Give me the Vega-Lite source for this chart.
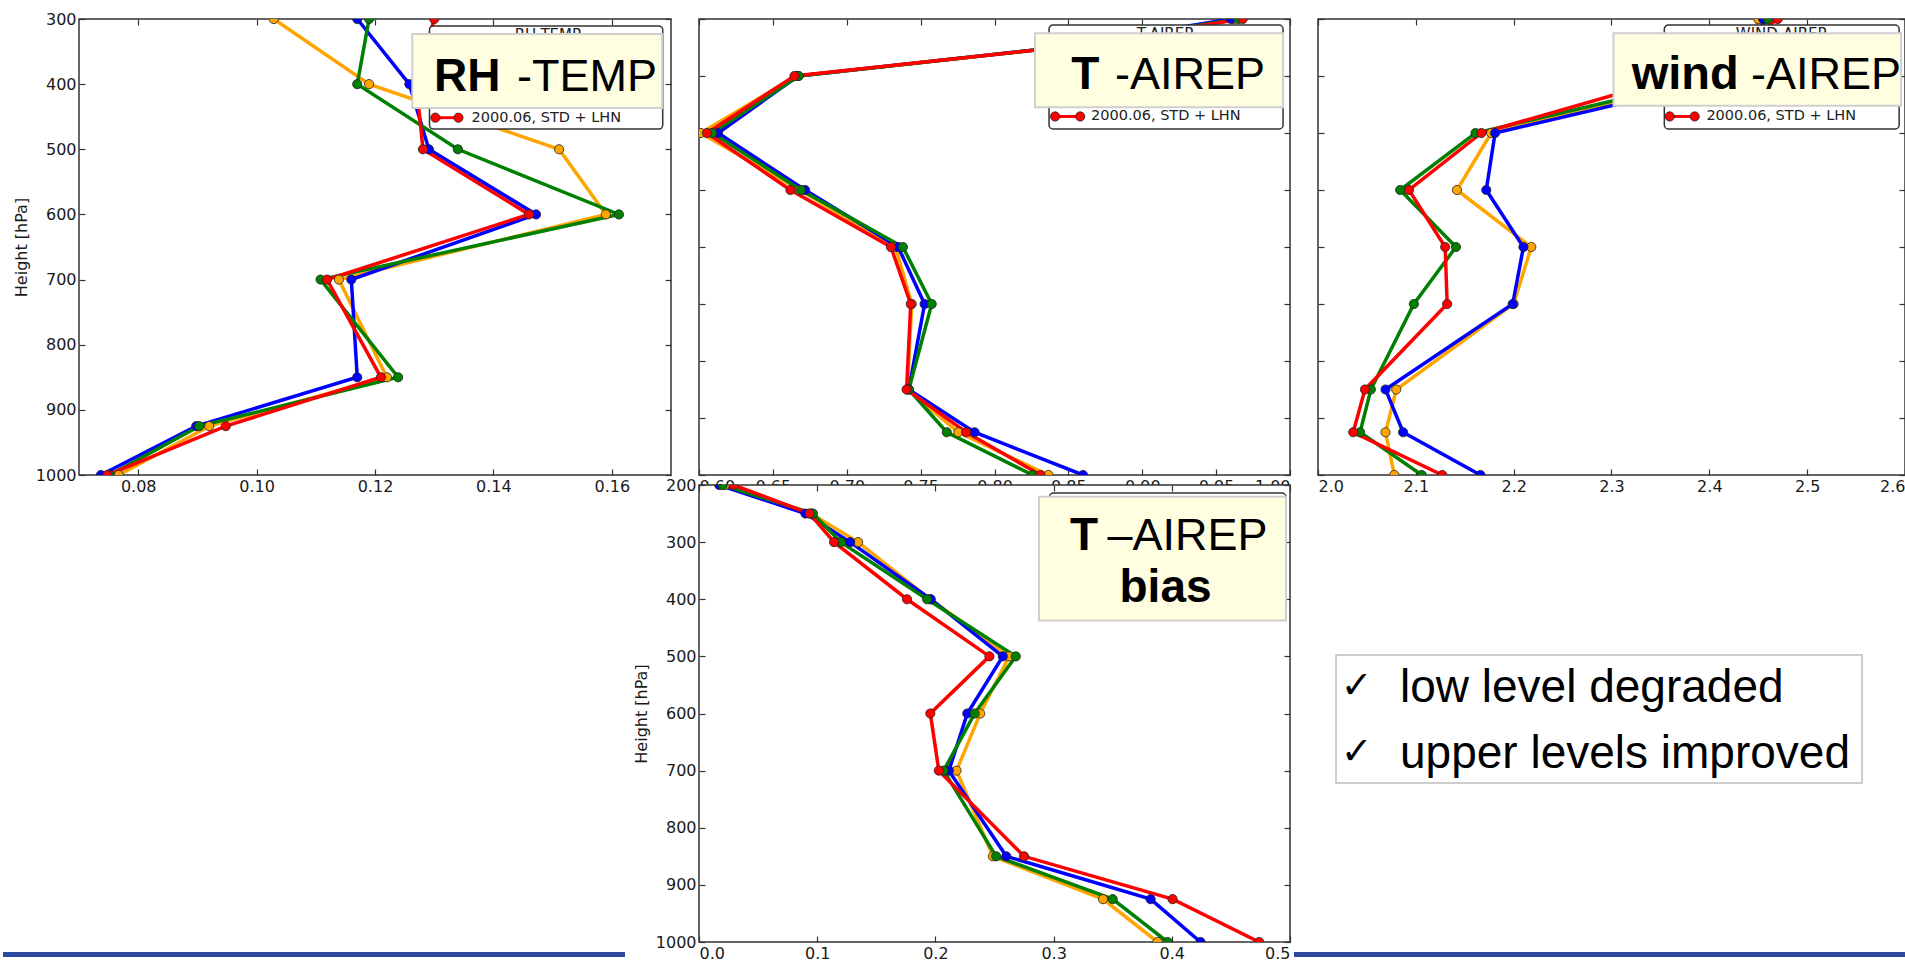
{
"$schema": "https://vega.github.io/schema/vega-lite/v6.json",
"background": "white",
"padding": {"left": 0, "top": 10, "right": 0, "bottom": 0},
"config": {
  "view": {"stroke": "#333", "strokeWidth": 1.5, "fill": "white"},
  "axis": {"grid": false, "domain": false, "tickColor": "#333", "tickSize": -6, "tickWidth": 1.2, "labelFont": "DejaVu Sans", "labelFontSize": 16, "labelColor": "#1a1a1a", "labelPadding": 9, "titleFont": "DejaVu Sans", "titleFontSize": 16, "titleFontWeight": "normal", "titleColor": "#1a1a1a"},
  "text": {"font": "Liberation Sans"}
},
"datasets": {
  "rh": [
    {"exp":"E1","lev":300,"val":0.1029},{"exp":"E1","lev":400,"val":0.1190},{"exp":"E1","lev":500,"val":0.1511},{"exp":"E1","lev":600,"val":0.1590},{"exp":"E1","lev":700,"val":0.1139},{"exp":"E1","lev":850,"val":0.1220},{"exp":"E1","lev":925,"val":0.0920},{"exp":"E1","lev":1000,"val":0.0767},
    {"exp":"E2","lev":300,"val":0.1170},{"exp":"E2","lev":400,"val":0.1258},{"exp":"E2","lev":500,"val":0.1291},{"exp":"E2","lev":600,"val":0.1472},{"exp":"E2","lev":700,"val":0.1160},{"exp":"E2","lev":850,"val":0.1170},{"exp":"E2","lev":925,"val":0.0898},{"exp":"E2","lev":1000,"val":0.0737},
    {"exp":"E3","lev":300,"val":0.1190},{"exp":"E3","lev":400,"val":0.1170},{"exp":"E3","lev":500,"val":0.1340},{"exp":"E3","lev":600,"val":0.1612},{"exp":"E3","lev":700,"val":0.1108},{"exp":"E3","lev":850,"val":0.1239},{"exp":"E3","lev":925,"val":0.0903},{"exp":"E3","lev":1000,"val":0.0752},
    {"exp":"2000.06, STD + LHN","lev":300,"val":0.1300},{"exp":"2000.06, STD + LHN","lev":400,"val":0.1270},{"exp":"2000.06, STD + LHN","lev":500,"val":0.1281},{"exp":"2000.06, STD + LHN","lev":600,"val":0.1460},{"exp":"2000.06, STD + LHN","lev":700,"val":0.1119},{"exp":"2000.06, STD + LHN","lev":850,"val":0.1210},{"exp":"2000.06, STD + LHN","lev":925,"val":0.0948},{"exp":"2000.06, STD + LHN","lev":1000,"val":0.0748}
  ],
  "t": [
    {"exp":"E1","lev":200,"val":0.962},{"exp":"E1","lev":250,"val":0.843},{"exp":"E1","lev":300,"val":0.666},{"exp":"E1","lev":400,"val":0.6013},{"exp":"E1","lev":500,"val":0.668},{"exp":"E1","lev":600,"val":0.733},{"exp":"E1","lev":700,"val":0.744},{"exp":"E1","lev":850,"val":0.741},{"exp":"E1","lev":925,"val":0.7755},{"exp":"E1","lev":1000,"val":0.8365},
    {"exp":"E2","lev":200,"val":0.960},{"exp":"E2","lev":250,"val":0.842},{"exp":"E2","lev":300,"val":0.667},{"exp":"E2","lev":400,"val":0.6129},{"exp":"E2","lev":500,"val":0.6718},{"exp":"E2","lev":600,"val":0.7348},{"exp":"E2","lev":700,"val":0.7527},{"exp":"E2","lev":850,"val":0.742},{"exp":"E2","lev":925,"val":0.7865},{"exp":"E2","lev":1000,"val":0.8599},
    {"exp":"E3","lev":200,"val":0.965},{"exp":"E3","lev":250,"val":0.843},{"exp":"E3","lev":300,"val":0.6675},{"exp":"E3","lev":400,"val":0.609},{"exp":"E3","lev":500,"val":0.669},{"exp":"E3","lev":600,"val":0.738},{"exp":"E3","lev":700,"val":0.7575},{"exp":"E3","lev":850,"val":0.742},{"exp":"E3","lev":925,"val":0.7677},{"exp":"E3","lev":1000,"val":0.8258},
    {"exp":"2000.06, STD + LHN","lev":200,"val":0.968},{"exp":"2000.06, STD + LHN","lev":250,"val":0.844},{"exp":"2000.06, STD + LHN","lev":300,"val":0.6646},{"exp":"2000.06, STD + LHN","lev":400,"val":0.6054},{"exp":"2000.06, STD + LHN","lev":500,"val":0.6619},{"exp":"2000.06, STD + LHN","lev":600,"val":0.7299},{"exp":"2000.06, STD + LHN","lev":700,"val":0.7433},{"exp":"2000.06, STD + LHN","lev":850,"val":0.7405},{"exp":"2000.06, STD + LHN","lev":925,"val":0.7808},{"exp":"2000.06, STD + LHN","lev":1000,"val":0.8312}
  ],
  "wind": [
    {"exp":"E1","lev":200,"val":2.45},{"exp":"E1","lev":250,"val":2.44},{"exp":"E1","lev":300,"val":2.41},{"exp":"E1","lev":400,"val":2.177},{"exp":"E1","lev":500,"val":2.142},{"exp":"E1","lev":600,"val":2.218},{"exp":"E1","lev":700,"val":2.200},{"exp":"E1","lev":850,"val":2.080},{"exp":"E1","lev":925,"val":2.069},{"exp":"E1","lev":1000,"val":2.078},
    {"exp":"E2","lev":200,"val":2.455},{"exp":"E2","lev":250,"val":2.45},{"exp":"E2","lev":300,"val":2.43},{"exp":"E2","lev":400,"val":2.181},{"exp":"E2","lev":500,"val":2.172},{"exp":"E2","lev":600,"val":2.210},{"exp":"E2","lev":700,"val":2.199},{"exp":"E2","lev":850,"val":2.069},{"exp":"E2","lev":925,"val":2.087},{"exp":"E2","lev":1000,"val":2.166},
    {"exp":"E3","lev":200,"val":2.46},{"exp":"E3","lev":250,"val":2.44},{"exp":"E3","lev":300,"val":2.41},{"exp":"E3","lev":400,"val":2.161},{"exp":"E3","lev":500,"val":2.084},{"exp":"E3","lev":600,"val":2.141},{"exp":"E3","lev":700,"val":2.098},{"exp":"E3","lev":850,"val":2.054},{"exp":"E3","lev":925,"val":2.043},{"exp":"E3","lev":1000,"val":2.106},
    {"exp":"2000.06, STD + LHN","lev":200,"val":2.47},{"exp":"2000.06, STD + LHN","lev":250,"val":2.43},{"exp":"2000.06, STD + LHN","lev":300,"val":2.37},{"exp":"2000.06, STD + LHN","lev":400,"val":2.167},{"exp":"2000.06, STD + LHN","lev":500,"val":2.093},{"exp":"2000.06, STD + LHN","lev":600,"val":2.130},{"exp":"2000.06, STD + LHN","lev":700,"val":2.132},{"exp":"2000.06, STD + LHN","lev":850,"val":2.048},{"exp":"2000.06, STD + LHN","lev":925,"val":2.036},{"exp":"2000.06, STD + LHN","lev":1000,"val":2.127}
  ],
  "tbias": [
    {"exp":"E1","lev":200,"val":0.022},{"exp":"E1","lev":250,"val":0.0946},{"exp":"E1","lev":300,"val":0.1346},{"exp":"E1","lev":400,"val":0.1957},{"exp":"E1","lev":500,"val":0.2625},{"exp":"E1","lev":600,"val":0.2379},{"exp":"E1","lev":700,"val":0.2179},{"exp":"E1","lev":850,"val":0.2486},{"exp":"E1","lev":925,"val":0.3418},{"exp":"E1","lev":1000,"val":0.3879},
    {"exp":"E2","lev":200,"val":0.0171},{"exp":"E2","lev":250,"val":0.090},{"exp":"E2","lev":300,"val":0.1279},{"exp":"E2","lev":400,"val":0.196},{"exp":"E2","lev":500,"val":0.257},{"exp":"E2","lev":600,"val":0.227},{"exp":"E2","lev":700,"val":0.2114},{"exp":"E2","lev":850,"val":0.260},{"exp":"E2","lev":925,"val":0.3821},{"exp":"E2","lev":1000,"val":0.4243},
    {"exp":"E3","lev":200,"val":0.020},{"exp":"E3","lev":250,"val":0.0964},{"exp":"E3","lev":300,"val":0.120},{"exp":"E3","lev":400,"val":0.193},{"exp":"E3","lev":500,"val":0.268},{"exp":"E3","lev":600,"val":0.2332},{"exp":"E3","lev":700,"val":0.207},{"exp":"E3","lev":850,"val":0.2514},{"exp":"E3","lev":925,"val":0.350},{"exp":"E3","lev":1000,"val":0.3964},
    {"exp":"2000.06, STD + LHN","lev":200,"val":0.0293},{"exp":"2000.06, STD + LHN","lev":250,"val":0.0936},{"exp":"2000.06, STD + LHN","lev":300,"val":0.1143},{"exp":"2000.06, STD + LHN","lev":400,"val":0.176},{"exp":"2000.06, STD + LHN","lev":500,"val":0.2457},{"exp":"2000.06, STD + LHN","lev":600,"val":0.1957},{"exp":"2000.06, STD + LHN","lev":700,"val":0.2029},{"exp":"2000.06, STD + LHN","lev":850,"val":0.275},{"exp":"2000.06, STD + LHN","lev":925,"val":0.4007},{"exp":"2000.06, STD + LHN","lev":1000,"val":0.4739}
  ]
},
"columns": 3,
"bounds": "flush",
"align": "each",
"spacing": {"row": 10, "column": 28},
"concat": [
  {
    "width": 592, "height": 456,
    "resolve": {"axis": {"x": "independent", "y": "independent"}},
    "layer": [
      {"data": {"name": "rh"},
       "mark": {"type": "line", "strokeWidth": 3.5, "clip": true},
       "encoding": {
         "x": {"field": "val", "type": "quantitative", "scale": {"domain": [0.07, 0.17], "nice": false, "zero": false}, "axis": {"values": [0.08, 0.10, 0.12, 0.14, 0.16], "format": ".2f", "title": null}},
         "y": {"field": "lev", "type": "quantitative", "scale": {"domain": [300, 1000], "reverse": true, "nice": false, "zero": false}, "axis": {"values": [300, 400, 500, 600, 700, 800, 900, 1000], "format": "d", "title": "Height [hPa]", "titlePadding": 6, "titleFontSize": 16, "titleFont": "DejaVu Sans", "titleFontWeight": "normal"}},
         "color": {"field": "exp", "type": "nominal", "scale": {"domain": ["E1", "E2", "E3", "2000.06, STD + LHN"], "range": ["#FFA500", "#0000FF", "#008000", "#FF0000"]}, "legend": null},
         "order": {"field": "lev", "type": "quantitative"}
       }},
      {"data": {"name": "rh"},
       "mark": {"type": "circle", "size": 85, "opacity": 1, "stroke": "#222", "strokeWidth": 0.8, "clip": true},
       "encoding": {
         "x": {"field": "val", "type": "quantitative", "axis": {"orient": "top", "labels": false, "title": null, "values": [0.08, 0.10, 0.12, 0.14, 0.16]}},
         "y": {"field": "lev", "type": "quantitative", "axis": {"orient": "right", "labels": false, "title": null, "values": [300, 400, 500, 600, 700, 800, 900, 1000]}},
         "color": {"field": "exp", "type": "nominal", "legend": null}
       }},
      {"data": {"values": [{}]},
       "mark": {"type": "rect", "fill": "white", "stroke": "#333", "strokeWidth": 1.5, "cornerRadius": 4},
       "encoding": {"x": {"datum": 0.1292, "type": "quantitative", "axis": null}, "x2": {"datum": 0.1686}, "y": {"datum": 310.7, "type": "quantitative", "axis": null}, "y2": {"datum": 468.9}}},
      {"data": {"values": [{}]},
       "mark": {"type": "rule", "stroke": "#FF0000", "strokeWidth": 3},
       "encoding": {"x": {"datum": 0.1302, "type": "quantitative", "axis": null}, "x2": {"datum": 0.1341}, "y": {"datum": 451.5, "type": "quantitative", "axis": null}}},
      {"data": {"values": [{}]},
       "mark": {"type": "circle", "size": 85, "fill": "#FF0000", "opacity": 1, "stroke": "#222", "strokeWidth": 0.8},
       "encoding": {"x": {"datum": 0.1302, "type": "quantitative", "axis": null}, "y": {"datum": 451.5, "type": "quantitative", "axis": null}}},
      {"data": {"values": [{}]},
       "mark": {"type": "circle", "size": 85, "fill": "#FF0000", "opacity": 1, "stroke": "#222", "strokeWidth": 0.8},
       "encoding": {"x": {"datum": 0.1341, "type": "quantitative", "axis": null}, "y": {"datum": 451.5, "type": "quantitative", "axis": null}}},
      {"data": {"values": [{}]},
       "mark": {"type": "text", "text": "2000.06, STD + LHN", "font": "DejaVu Sans", "fontSize": 14.5, "color": "#222", "align": "left", "baseline": "middle"},
       "encoding": {"x": {"datum": 0.1363, "type": "quantitative", "axis": null}, "y": {"datum": 451.5, "type": "quantitative", "axis": null}}},
      {"data": {"values": [{}]},
       "mark": {"type": "text", "text": "RH-TEMP", "font": "DejaVu Sans", "fontSize": 15, "color": "#222", "align": "center", "baseline": "middle"},
       "encoding": {"x": {"datum": 0.1492, "type": "quantitative", "axis": null}, "y": {"datum": 325, "type": "quantitative", "axis": null}}},
      {"data": {"values": [{}]},
       "mark": {"type": "rect", "fill": "#FFFEE0", "stroke": "#CFCFCF", "strokeWidth": 2},
       "encoding": {"x": {"datum": 0.1263, "type": "quantitative", "axis": null}, "x2": {"datum": 0.1685}, "y": {"datum": 323, "type": "quantitative", "axis": null}, "y2": {"datum": 436.6}}},
      {"data": {"values": [{}]},
       "mark": {"type": "text", "text": "RH", "fontSize": 46, "fontWeight": "bold", "color": "black", "align": "right", "baseline": "alphabetic"},
       "encoding": {"x": {"datum": 0.1412, "type": "quantitative", "axis": null}, "y": {"datum": 410, "type": "quantitative", "axis": null}}},
      {"data": {"values": [{}]},
       "mark": {"type": "text", "text": "-TEMP", "fontSize": 45, "color": "black", "align": "left", "baseline": "alphabetic"},
       "encoding": {"x": {"datum": 0.1440, "type": "quantitative", "axis": null}, "y": {"datum": 410, "type": "quantitative", "axis": null}}}
    ]
  },
  {
    "width": 591, "height": 456,
    "resolve": {"axis": {"x": "independent", "y": "independent"}},
    "layer": [
      {"data": {"name": "t"},
       "mark": {"type": "line", "strokeWidth": 3.5, "clip": true},
       "encoding": {
         "x": {"field": "val", "type": "quantitative", "scale": {"domain": [0.6, 1.0], "nice": false, "zero": false}, "axis": {"values": [0.6, 0.65, 0.7, 0.75, 0.8, 0.85, 0.9, 0.95, 1.0], "format": ".2f", "title": null}},
         "y": {"field": "lev", "type": "quantitative", "scale": {"domain": [200, 1000], "reverse": true, "nice": false, "zero": false}, "axis": {"values": [200, 300, 400, 500, 600, 700, 800, 900, 1000], "labels": false, "title": null}},
         "color": {"field": "exp", "type": "nominal", "scale": {"domain": ["E1", "E2", "E3", "2000.06, STD + LHN"], "range": ["#FFA500", "#0000FF", "#008000", "#FF0000"]}, "legend": null},
         "order": {"field": "lev", "type": "quantitative"}
       }},
      {"data": {"name": "t"},
       "mark": {"type": "circle", "size": 85, "opacity": 1, "stroke": "#222", "strokeWidth": 0.8, "clip": true},
       "encoding": {
         "x": {"field": "val", "type": "quantitative", "axis": {"orient": "top", "labels": false, "title": null, "values": [0.6, 0.65, 0.7, 0.75, 0.8, 0.85, 0.9, 0.95, 1.0]}},
         "y": {"field": "lev", "type": "quantitative", "axis": {"orient": "right", "labels": false, "title": null, "values": [200, 300, 400, 500, 600, 700, 800, 900, 1000]}},
         "color": {"field": "exp", "type": "nominal", "legend": null}
       }},
      {"data": {"values": [{}]},
       "mark": {"type": "rect", "fill": "white", "stroke": "#333", "strokeWidth": 1.5, "cornerRadius": 4},
       "encoding": {"x": {"datum": 0.8369, "type": "quantitative", "axis": null}, "x2": {"datum": 0.9953}, "y": {"datum": 210.5, "type": "quantitative", "axis": null}, "y2": {"datum": 393}}},
      {"data": {"values": [{}]},
       "mark": {"type": "rule", "stroke": "#FF0000", "strokeWidth": 3},
       "encoding": {"x": {"datum": 0.841, "type": "quantitative", "axis": null}, "x2": {"datum": 0.858}, "y": {"datum": 371, "type": "quantitative", "axis": null}}},
      {"data": {"values": [{}]},
       "mark": {"type": "circle", "size": 85, "fill": "#FF0000", "opacity": 1, "stroke": "#222", "strokeWidth": 0.8},
       "encoding": {"x": {"datum": 0.841, "type": "quantitative", "axis": null}, "y": {"datum": 371, "type": "quantitative", "axis": null}}},
      {"data": {"values": [{}]},
       "mark": {"type": "circle", "size": 85, "fill": "#FF0000", "opacity": 1, "stroke": "#222", "strokeWidth": 0.8},
       "encoding": {"x": {"datum": 0.858, "type": "quantitative", "axis": null}, "y": {"datum": 371, "type": "quantitative", "axis": null}}},
      {"data": {"values": [{}]},
       "mark": {"type": "text", "text": "2000.06, STD + LHN", "font": "DejaVu Sans", "fontSize": 14.5, "color": "#222", "align": "left", "baseline": "middle"},
       "encoding": {"x": {"datum": 0.8653, "type": "quantitative", "axis": null}, "y": {"datum": 371, "type": "quantitative", "axis": null}}},
      {"data": {"values": [{}]},
       "mark": {"type": "text", "text": "T-AIREP", "font": "DejaVu Sans", "fontSize": 15, "color": "#222", "align": "center", "baseline": "middle"},
       "encoding": {"x": {"datum": 0.9154, "type": "quantitative", "axis": null}, "y": {"datum": 226, "type": "quantitative", "axis": null}}},
      {"data": {"values": [{}]},
       "mark": {"type": "rect", "fill": "#FFFEE0", "stroke": "#CFCFCF", "strokeWidth": 2},
       "encoding": {"x": {"datum": 0.8274, "type": "quantitative", "axis": null}, "x2": {"datum": 0.9953}, "y": {"datum": 225, "type": "quantitative", "axis": null}, "y2": {"datum": 355}}},
      {"data": {"values": [{}]},
       "mark": {"type": "text", "text": "T", "fontSize": 46, "fontWeight": "bold", "color": "black", "align": "right", "baseline": "alphabetic"},
       "encoding": {"x": {"datum": 0.871, "type": "quantitative", "axis": null}, "y": {"datum": 323, "type": "quantitative", "axis": null}}},
      {"data": {"values": [{}]},
       "mark": {"type": "text", "text": "-AIREP", "fontSize": 45, "color": "black", "align": "left", "baseline": "alphabetic"},
       "encoding": {"x": {"datum": 0.8815, "type": "quantitative", "axis": null}, "y": {"datum": 323, "type": "quantitative", "axis": null}}}
    ]
  },
  {
    "width": 587, "height": 456,
    "resolve": {"axis": {"x": "independent", "y": "independent"}},
    "layer": [
      {"data": {"name": "wind"},
       "mark": {"type": "line", "strokeWidth": 3.5, "clip": true},
       "encoding": {
         "x": {"field": "val", "type": "quantitative", "scale": {"domain": [2.0, 2.6], "nice": false, "zero": false}, "axis": {"values": [2.0, 2.1, 2.2, 2.3, 2.4, 2.5, 2.6], "format": ".1f", "title": null}},
         "y": {"field": "lev", "type": "quantitative", "scale": {"domain": [200, 1000], "reverse": true, "nice": false, "zero": false}, "axis": {"values": [200, 300, 400, 500, 600, 700, 800, 900, 1000], "labels": false, "title": null}},
         "color": {"field": "exp", "type": "nominal", "scale": {"domain": ["E1", "E2", "E3", "2000.06, STD + LHN"], "range": ["#FFA500", "#0000FF", "#008000", "#FF0000"]}, "legend": null},
         "order": {"field": "lev", "type": "quantitative"}
       }},
      {"data": {"name": "wind"},
       "mark": {"type": "circle", "size": 85, "opacity": 1, "stroke": "#222", "strokeWidth": 0.8, "clip": true},
       "encoding": {
         "x": {"field": "val", "type": "quantitative", "axis": {"orient": "top", "labels": false, "title": null, "values": [2.0, 2.1, 2.2, 2.3, 2.4, 2.5, 2.6]}},
         "y": {"field": "lev", "type": "quantitative", "axis": {"orient": "right", "labels": false, "title": null, "values": [200, 300, 400, 500, 600, 700, 800, 900, 1000]}},
         "color": {"field": "exp", "type": "nominal", "legend": null}
       }},
      {"data": {"values": [{}]},
       "mark": {"type": "rect", "fill": "white", "stroke": "#333", "strokeWidth": 1.5, "cornerRadius": 4},
       "encoding": {"x": {"datum": 2.354, "type": "quantitative", "axis": null}, "x2": {"datum": 2.594}, "y": {"datum": 210.5, "type": "quantitative", "axis": null}, "y2": {"datum": 393}}},
      {"data": {"values": [{}]},
       "mark": {"type": "rule", "stroke": "#FF0000", "strokeWidth": 3},
       "encoding": {"x": {"datum": 2.3595, "type": "quantitative", "axis": null}, "x2": {"datum": 2.385}, "y": {"datum": 371, "type": "quantitative", "axis": null}}},
      {"data": {"values": [{}]},
       "mark": {"type": "circle", "size": 85, "fill": "#FF0000", "opacity": 1, "stroke": "#222", "strokeWidth": 0.8},
       "encoding": {"x": {"datum": 2.3595, "type": "quantitative", "axis": null}, "y": {"datum": 371, "type": "quantitative", "axis": null}}},
      {"data": {"values": [{}]},
       "mark": {"type": "circle", "size": 85, "fill": "#FF0000", "opacity": 1, "stroke": "#222", "strokeWidth": 0.8},
       "encoding": {"x": {"datum": 2.385, "type": "quantitative", "axis": null}, "y": {"datum": 371, "type": "quantitative", "axis": null}}},
      {"data": {"values": [{}]},
       "mark": {"type": "text", "text": "2000.06, STD + LHN", "font": "DejaVu Sans", "fontSize": 14.5, "color": "#222", "align": "left", "baseline": "middle"},
       "encoding": {"x": {"datum": 2.397, "type": "quantitative", "axis": null}, "y": {"datum": 371, "type": "quantitative", "axis": null}}},
      {"data": {"values": [{}]},
       "mark": {"type": "text", "text": "WIND-AIREP", "font": "DejaVu Sans", "fontSize": 15, "color": "#222", "align": "center", "baseline": "middle"},
       "encoding": {"x": {"datum": 2.4735, "type": "quantitative", "axis": null}, "y": {"datum": 226, "type": "quantitative", "axis": null}}},
      {"data": {"values": [{}]},
       "mark": {"type": "rect", "fill": "#FFFEE0", "stroke": "#CFCFCF", "strokeWidth": 2},
       "encoding": {"x": {"datum": 2.302, "type": "quantitative", "axis": null}, "x2": {"datum": 2.596}, "y": {"datum": 225, "type": "quantitative", "axis": null}, "y2": {"datum": 352}}},
      {"data": {"values": [{}]},
       "mark": {"type": "text", "text": "wind", "fontSize": 47, "fontWeight": "bold", "color": "black", "align": "right", "baseline": "alphabetic"},
       "encoding": {"x": {"datum": 2.430, "type": "quantitative", "axis": null}, "y": {"datum": 323, "type": "quantitative", "axis": null}}},
      {"data": {"values": [{}]},
       "mark": {"type": "text", "text": "-AIREP", "fontSize": 45, "color": "black", "align": "left", "baseline": "alphabetic"},
       "encoding": {"x": {"datum": 2.4425, "type": "quantitative", "axis": null}, "y": {"datum": 323, "type": "quantitative", "axis": null}}}
    ]
  },
  {
    "width": 592, "height": 457,
    "view": {"stroke": null, "fill": null},
    "data": {"values": [{}]},
    "mark": {"type": "rule", "stroke": "#2E4A9E", "strokeWidth": 5, "clip": false},
    "encoding": {
      "x": {"datum": -0.1284, "type": "quantitative", "scale": {"domain": [0, 1], "nice": false, "zero": false}, "axis": null},
      "x2": {"datum": 0.9223},
      "y": {"datum": 1.0274, "type": "quantitative", "scale": {"domain": [0, 1], "reverse": true, "nice": false, "zero": false}, "axis": null}
    }
  },
  {
    "width": 591, "height": 457,
    "resolve": {"axis": {"x": "independent", "y": "independent"}},
    "layer": [
      {"data": {"name": "tbias"},
       "mark": {"type": "line", "strokeWidth": 3.5, "clip": true},
       "encoding": {
         "x": {"field": "val", "type": "quantitative", "scale": {"domain": [0, 0.5], "nice": false, "zero": false}, "axis": {"values": [0, 0.1, 0.2, 0.3, 0.4, 0.5], "format": ".1f", "title": null}},
         "y": {"field": "lev", "type": "quantitative", "scale": {"domain": [200, 1000], "reverse": true, "nice": false, "zero": false}, "axis": {"values": [200, 300, 400, 500, 600, 700, 800, 900, 1000], "format": "d", "title": "Height [hPa]", "titlePadding": 6, "titleFontSize": 16, "titleFont": "DejaVu Sans", "titleFontWeight": "normal"}},
         "color": {"field": "exp", "type": "nominal", "scale": {"domain": ["E1", "E2", "E3", "2000.06, STD + LHN"], "range": ["#FFA500", "#0000FF", "#008000", "#FF0000"]}, "legend": null},
         "order": {"field": "lev", "type": "quantitative"}
       }},
      {"data": {"name": "tbias"},
       "mark": {"type": "circle", "size": 85, "opacity": 1, "stroke": "#222", "strokeWidth": 0.8, "clip": true},
       "encoding": {
         "x": {"field": "val", "type": "quantitative", "axis": {"orient": "top", "labels": false, "title": null, "values": [0, 0.1, 0.2, 0.3, 0.4, 0.5]}},
         "y": {"field": "lev", "type": "quantitative", "axis": {"orient": "right", "labels": false, "title": null, "values": [200, 300, 400, 500, 600, 700, 800, 900, 1000]}},
         "color": {"field": "exp", "type": "nominal", "legend": null}
       }},
      {"data": {"values": [{}]},
       "mark": {"type": "rect", "fill": "white", "stroke": "#333", "strokeWidth": 1.5, "cornerRadius": 4},
       "encoding": {"x": {"datum": 0.2965, "type": "quantitative", "axis": null}, "x2": {"datum": 0.4966}, "y": {"datum": 214, "type": "quantitative", "axis": null}, "y2": {"datum": 400}}},
      {"data": {"values": [{}]},
       "mark": {"type": "rect", "fill": "#FFFEE0", "stroke": "#CFCFCF", "strokeWidth": 2},
       "encoding": {"x": {"datum": 0.2876, "type": "quantitative", "axis": null}, "x2": {"datum": 0.4966}, "y": {"datum": 220.4, "type": "quantitative", "axis": null}, "y2": {"datum": 437}}},
      {"data": {"values": [{}]},
       "mark": {"type": "text", "text": "T", "fontSize": 46, "fontWeight": "bold", "color": "black", "align": "right", "baseline": "alphabetic"},
       "encoding": {"x": {"datum": 0.3376, "type": "quantitative", "axis": null}, "y": {"datum": 314, "type": "quantitative", "axis": null}}},
      {"data": {"values": [{}]},
       "mark": {"type": "text", "text": "–AIREP", "fontSize": 45, "color": "black", "align": "left", "baseline": "alphabetic"},
       "encoding": {"x": {"datum": 0.3455, "type": "quantitative", "axis": null}, "y": {"datum": 314, "type": "quantitative", "axis": null}}},
      {"data": {"values": [{}]},
       "mark": {"type": "text", "text": "bias", "fontSize": 46, "fontWeight": "bold", "color": "black", "align": "center", "baseline": "alphabetic"},
       "encoding": {"x": {"datum": 0.3947, "type": "quantitative", "axis": null}, "y": {"datum": 404, "type": "quantitative", "axis": null}}}
    ]
  },
  {
    "width": 587, "height": 457,
    "view": {"stroke": null, "fill": null},
    "data": {"values": [{}]},
    "encoding": {
      "x": {"datum": 0, "type": "quantitative", "scale": {"domain": [0, 1], "nice": false, "zero": false}, "axis": null},
      "y": {"datum": 0, "type": "quantitative", "scale": {"domain": [0, 1], "reverse": true, "nice": false, "zero": false}, "axis": null}
    },
    "layer": [
      {"mark": {"type": "rule", "stroke": "#2E4A9E", "strokeWidth": 5, "clip": false},
       "encoding": {"x": {"datum": -0.0409, "type": "quantitative", "axis": null}, "x2": {"datum": 1.0051}, "y": {"datum": 1.0274, "type": "quantitative", "axis": null}}},
      {"mark": {"type": "rect", "fill": "white", "stroke": "#BDBDBD", "strokeWidth": 1.5},
       "encoding": {"x": {"datum": 0.0307, "type": "quantitative", "axis": null}, "x2": {"datum": 0.9268}, "y": {"datum": 0.372, "type": "quantitative", "axis": null}, "y2": {"datum": 0.652}}},
      {"mark": {"type": "text", "text": "✓", "font": "DejaVu Sans", "fontSize": 38, "color": "black", "align": "center", "baseline": "alphabetic"},
       "encoding": {"x": {"datum": 0.066, "type": "quantitative", "axis": null}, "y": {"datum": 0.466, "type": "quantitative", "axis": null}}},
      {"mark": {"type": "text", "text": "low level degraded", "fontSize": 46, "color": "black", "align": "left", "baseline": "alphabetic"},
       "encoding": {"x": {"datum": 0.1397, "type": "quantitative", "axis": null}, "y": {"datum": 0.4748, "type": "quantitative", "axis": null}}},
      {"mark": {"type": "text", "text": "✓", "font": "DejaVu Sans", "fontSize": 38, "color": "black", "align": "center", "baseline": "alphabetic"},
       "encoding": {"x": {"datum": 0.066, "type": "quantitative", "axis": null}, "y": {"datum": 0.61, "type": "quantitative", "axis": null}}},
      {"mark": {"type": "text", "text": "upper levels improved", "fontSize": 46, "color": "black", "align": "left", "baseline": "alphabetic"},
       "encoding": {"x": {"datum": 0.1397, "type": "quantitative", "axis": null}, "y": {"datum": 0.6186, "type": "quantitative", "axis": null}}}
    ]
  }
]
}
